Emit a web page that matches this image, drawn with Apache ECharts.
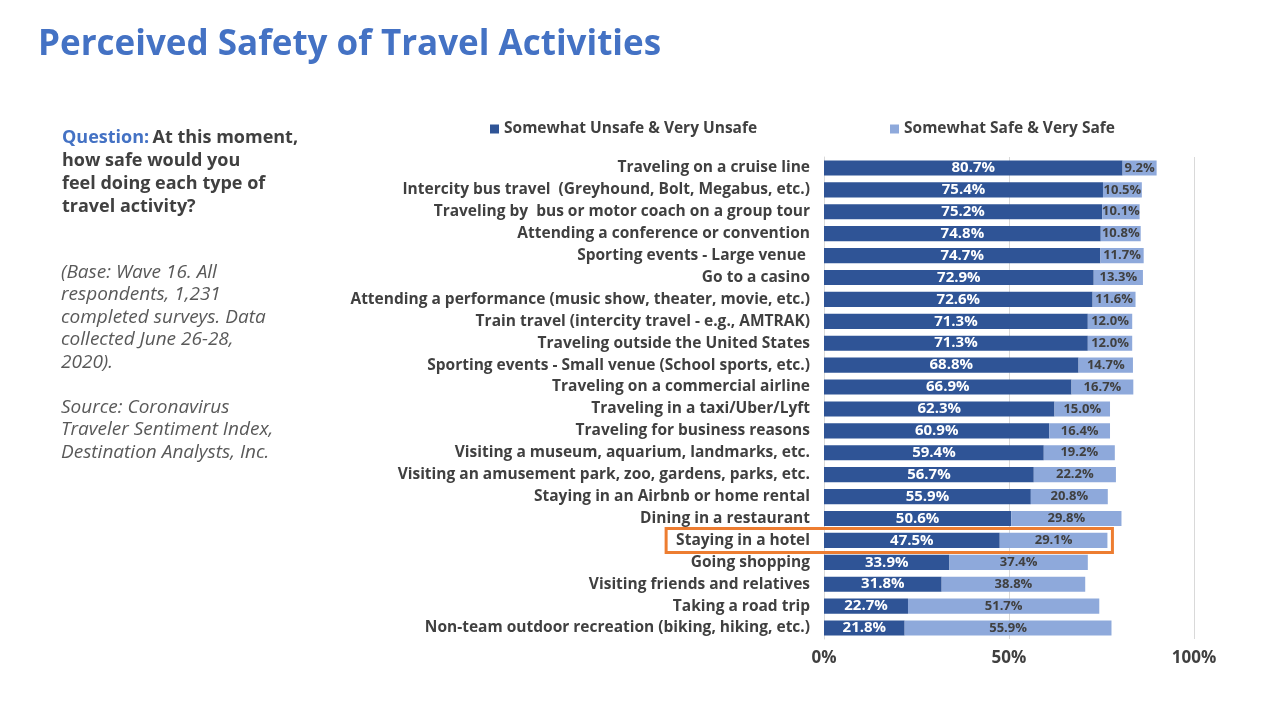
<!DOCTYPE html>
<html>
<head>
<meta charset="utf-8">
<script src="https://cdn.jsdelivr.net/npm/echarts@6/dist/echarts.min.js"></script>
<style>
html,body{margin:0;padding:0;background:#fff;}
#c{width:1280px;height:720px;}
</style>
</head>
<body>
<div id="c"></div>
<script>
const categories = [
  "Traveling on a cruise line",
  "Intercity bus travel  (Greyhound, Bolt, Megabus, etc.)",
  "Traveling by  bus or motor coach on a group tour",
  "Attending a conference or convention",
  "Sporting events - Large venue ",
  "Go to a casino",
  "Attending a performance (music show, theater, movie, etc.)",
  "Train travel (intercity travel - e.g., AMTRAK)",
  "Traveling outside the United States",
  "Sporting events - Small venue (School sports, etc.)",
  "Traveling on a commercial airline",
  "Traveling in a taxi/Uber/Lyft",
  "Traveling for business reasons",
  "Visiting a museum, aquarium, landmarks, etc.",
  "Visiting an amusement park, zoo, gardens, parks, etc.",
  "Staying in an Airbnb or home rental",
  "Dining in a restaurant",
  "Staying in a hotel",
  "Going shopping",
  "Visiting friends and relatives",
  "Taking a road trip",
  "Non-team outdoor recreation (biking, hiking, etc.)"
];
const unsafe = [80.7,75.4,75.2,74.8,74.7,72.9,72.6,71.3,71.3,68.8,66.9,62.3,60.9,59.4,56.7,55.9,50.6,47.5,33.9,31.8,22.7,21.8];
const safe   = [9.2,10.5,10.1,10.8,11.7,13.3,11.6,12.0,12.0,14.7,16.7,15.0,16.4,19.2,22.2,20.8,29.8,29.1,37.4,38.8,51.7,55.9];
const seriesNames = ["Somewhat Unsafe & Very Unsafe","Somewhat Safe & Very Safe"];
const xTicks = [0,50,100];
const highlightCategory = "Staying in a hotel";

const FONT = "'Open Sans', Lato, sans-serif";
const DARK = "#2F5496", LIGHT = "#8EA9DB", TXT = "#404040";
const CAT_FS = 15.5;

const chart = echarts.init(document.getElementById('c'));
const graphics = [
  {type:'text', left: 38, top: 28, style:{text:'Perceived Safety of Travel Activities', fill:'#4472C4', font:"bold 35px " + FONT}},
  {type:'text', left: 62, top: 129, style:{
    text:'{q|Question:} {b|At this moment,}\n{b|how safe would you}\n{b|feel doing each type of}\n{b|travel activity?}',
    rich:{
      q:{fill:'#4472C4', fontWeight:'bold', fontSize:18, fontFamily:FONT, lineHeight:23},
      b:{fill:TXT, fontWeight:'bold', fontSize:18, fontFamily:FONT, lineHeight:23}
    }}},
  {type:'text', left: 61, top: 261, style:{
    text:'(Base: Wave 16. All\nrespondents, 1,231\ncompleted surveys. Data\ncollected June 26-28,\n2020).\n\nSource: Coronavirus\nTraveler Sentiment Index,\nDestination Analysts, Inc.',
    fill:'#595959', fontStyle:'italic', fontSize:19, fontFamily:FONT, lineHeight:22.5}}
];
const option = {
  backgroundColor: '#fff',
  animation: false,
  textStyle: {fontFamily: FONT},
  legend: [
    {data:[seriesNames[0]], left: 485, top: 116, itemWidth: 9, itemHeight: 9, itemGap: 4, icon:'rect',
     textStyle:{fontFamily: FONT, fontWeight:'bold', fontSize:15.5, color:TXT}},
    {data:[seriesNames[1]], left: 885, top: 116, itemWidth: 9, itemHeight: 9, itemGap: 4, icon:'rect',
     textStyle:{fontFamily: FONT, fontWeight:'bold', fontSize:15.5, color:TXT}}
  ],
  grid: {left: 824, right: 86, top: 157, bottom: 81, containLabel: false},
  xAxis: {
    type: 'value', min: 0, max: 100, interval: 50,
    axisLine: {show:false}, axisTick:{show:false},
    splitLine: {lineStyle:{color:'#d9d9d9', width:1}},
    axisLabel: {formatter: v => xTicks.includes(v) ? v + '%' : '', fontFamily: FONT, fontWeight:'bold', fontSize:17, color:TXT, margin: 11}
  },
  yAxis: {
    type: 'category', inverse: true, data: categories,
    axisLine: {show:true, lineStyle:{color:'#d9d9d9'}}, axisTick:{show:false},
    axisLabel: {fontFamily: FONT, fontWeight:'bold', fontSize:CAT_FS, color:TXT, margin: 14}
  },
  series: [
    {name: seriesNames[0], type:'bar', stack:'s', data: unsafe, barCategoryGap:'31%',
     itemStyle:{color:DARK},
     label:{show:true, position:'inside', formatter: p => p.value.toFixed(1)+'%', color:'#fff', fontFamily: FONT, fontWeight:'bold', fontSize:15}},
    {name: seriesNames[1], type:'bar', stack:'s', data: safe, barCategoryGap:'31%',
     itemStyle:{color:LIGHT},
     label:{show:true, position:'inside', formatter: p => p.value.toFixed(1)+'%', color:TXT, fontFamily: FONT, fontWeight:'bold', fontSize:13}}
  ],
  graphic: graphics
};
chart.setOption(option);

// highlight box around the hotel row (label + bar)
const idx = categories.indexOf(highlightCategory);
const yc = chart.convertToPixel({yAxisIndex:0}, highlightCategory);
const x0 = chart.convertToPixel({xAxisIndex:0}, 0);
const xEnd = chart.convertToPixel({xAxisIndex:0}, unsafe[idx] + safe[idx]);
const ctx = document.createElement('canvas').getContext('2d');
ctx.font = "bold " + CAT_FS + "px " + FONT;
const lw = ctx.measureText(highlightCategory).width;
const boxLeft = x0 - 14 - lw - 10;
const boxRight = xEnd + 5;
chart.setOption({graphic: graphics.concat([
  {type:'rect', shape:{x: boxLeft, y: yc - 12, width: boxRight - boxLeft, height: 24},
   style:{fill:'none', stroke:'#ED7D31', lineWidth:3}, z: 100}
])});
</script>
</body>
</html>
